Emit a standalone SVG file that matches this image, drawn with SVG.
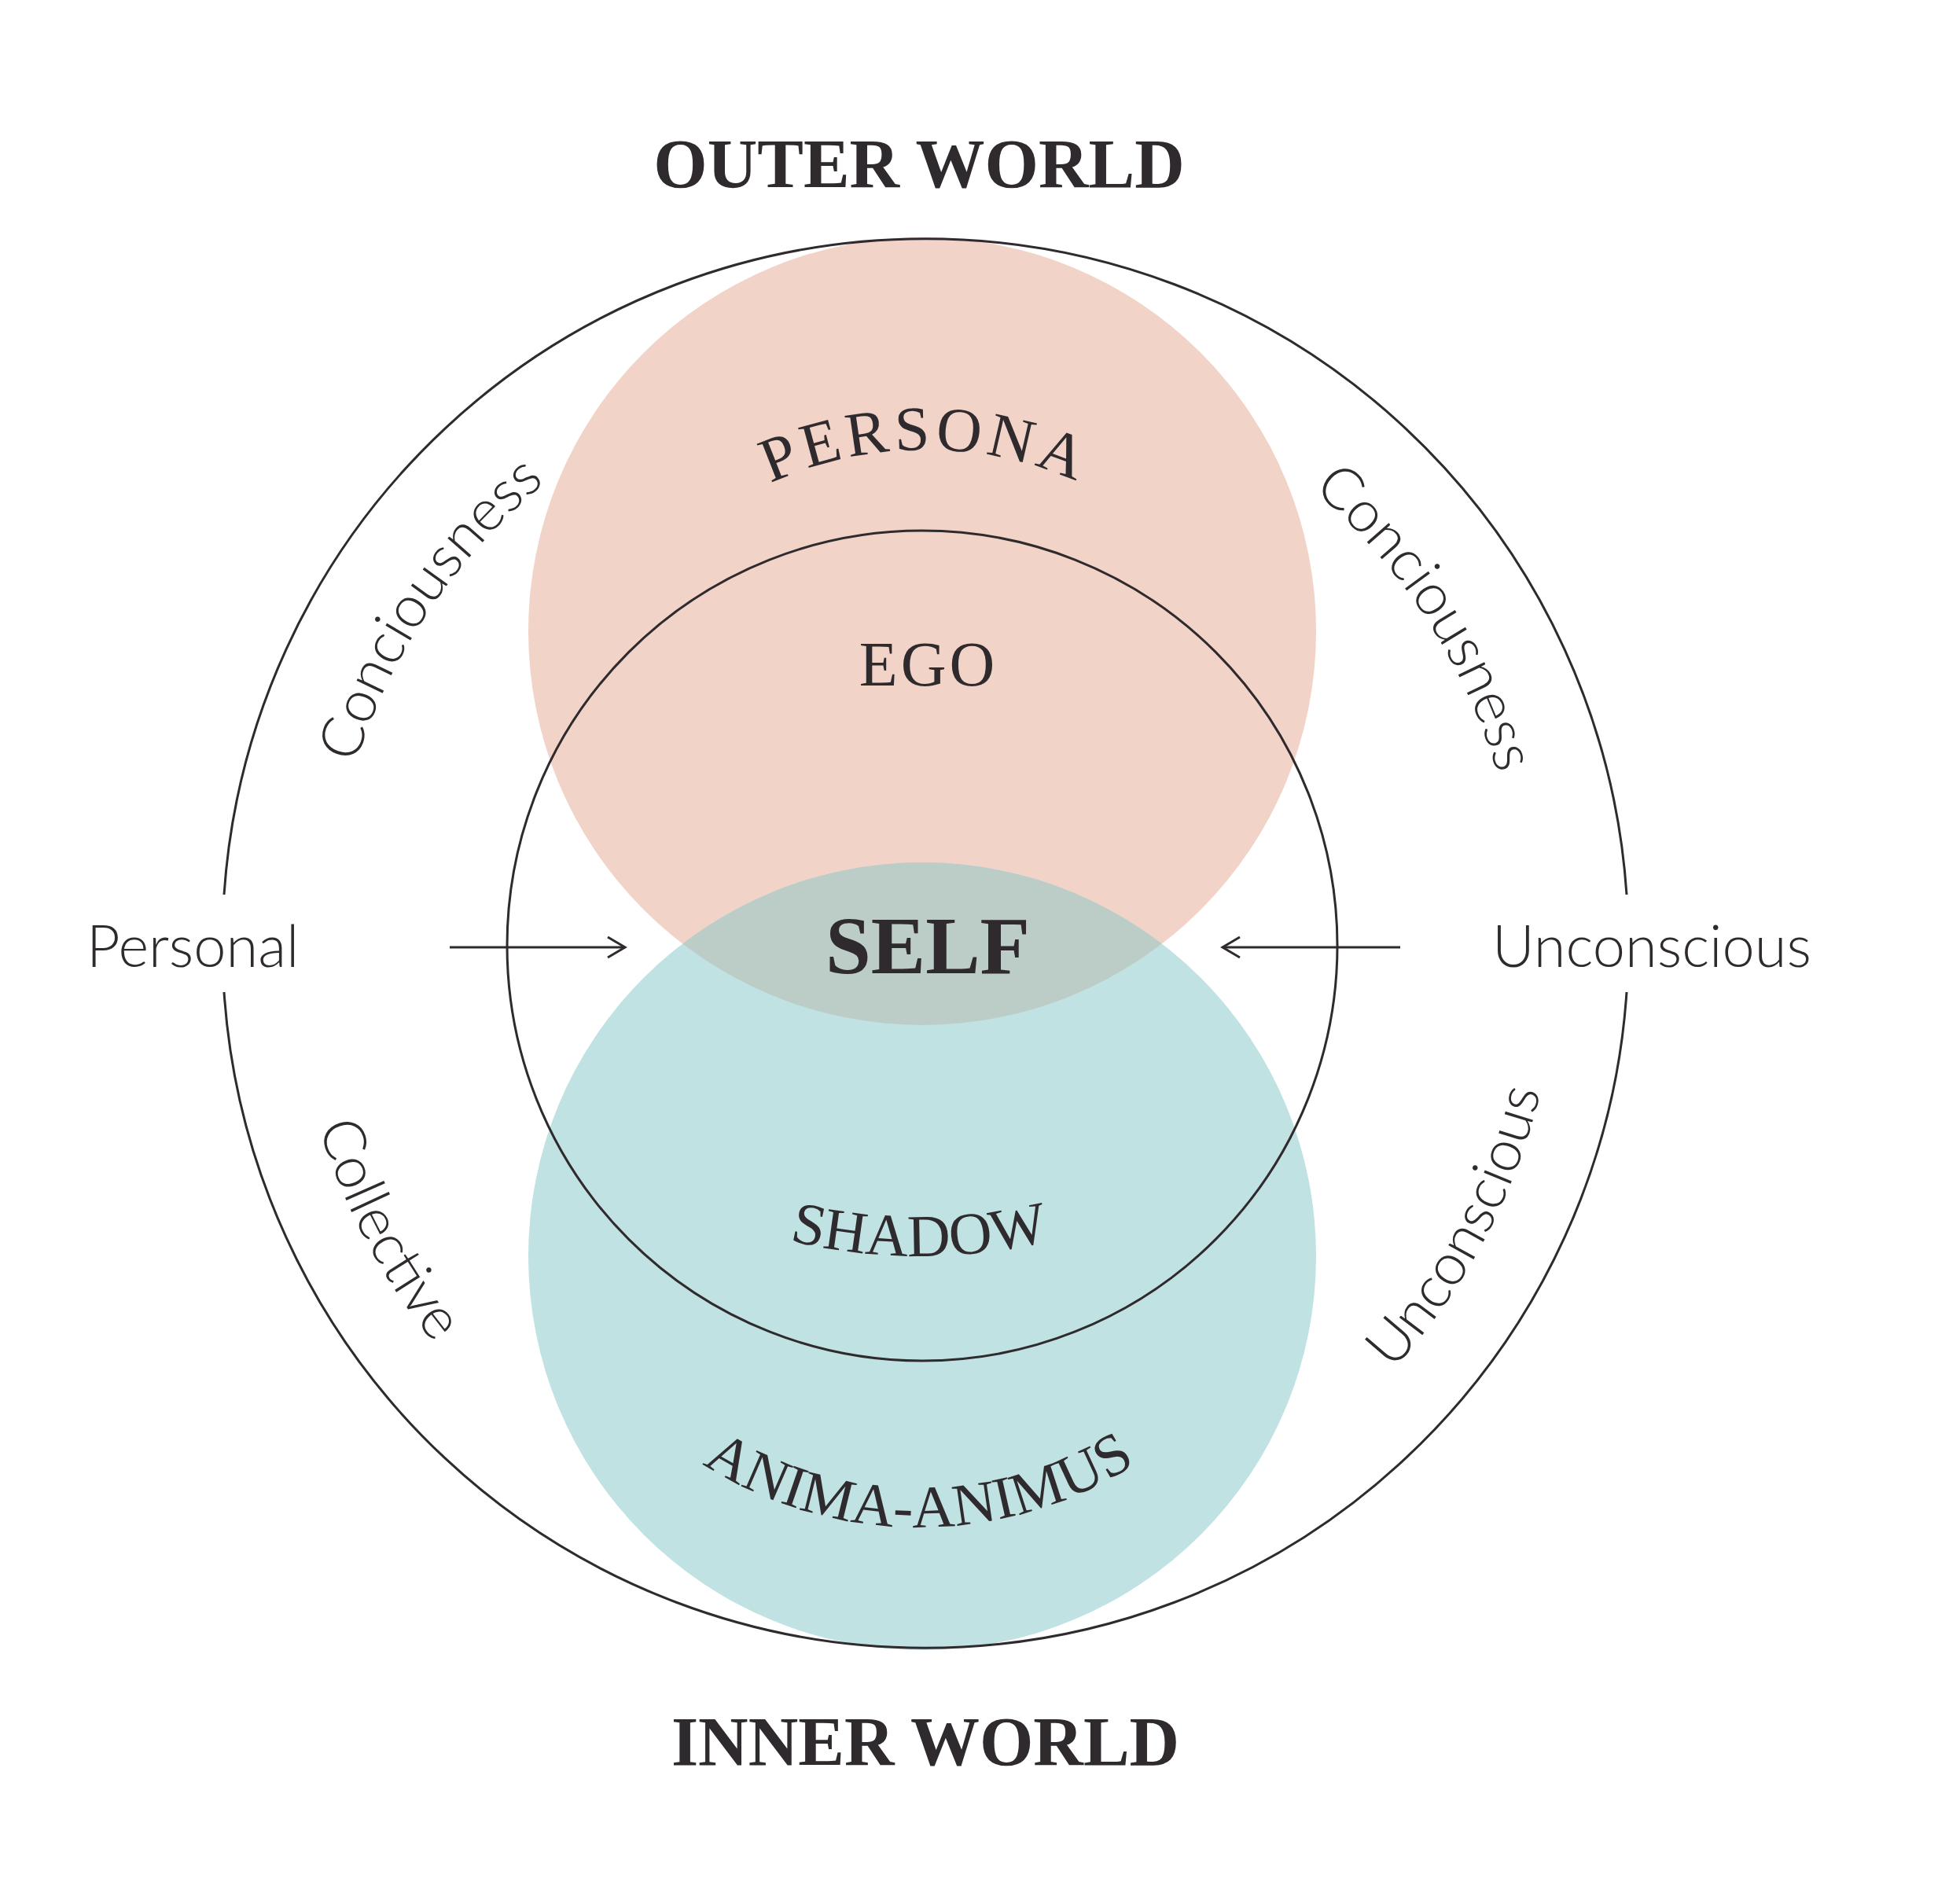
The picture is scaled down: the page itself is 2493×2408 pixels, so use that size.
<svg xmlns="http://www.w3.org/2000/svg" width="2493" height="2408" viewBox="0 0 2493 2408">
<style>
.ser{font-family:"Liberation Serif",serif;fill:#2f2a2d}
.san{font-family:"Lato","Noto Sans",sans-serif;font-weight:300;fill:#2f2a2d;font-size:74px}
.ln{fill:none;stroke:#2f2a2d;stroke-width:3}
</style>
<defs>
<clipPath id="pc"><circle cx="1173" cy="803" r="501"/></clipPath>
<marker id="ah" markerWidth="30" markerHeight="30" refX="26" refY="15" orient="auto" markerUnits="userSpaceOnUse"><path d="M4,2 L26,15 L4,28" fill="none" stroke="#2f2a2d" stroke-width="3"/></marker>
<path id="p1" d="M562,1647 A760,760 0 0 1 1361,463"/>
<path id="p2" d="M1006,460 A760,760 0 0 1 1784,1657"/>
<path id="p3" d="M578,661 A805,805 0 0 0 1289,1997"/>
<path id="p4" d="M1065,1997 A805,805 0 0 0 1775,661"/>
<path id="pp" d="M870,684 A477,477 0 0 1 1484,684"/>
<path id="ps" d="M819,1504 A700,700 0 0 0 1519,1504"/>
<path id="pa" d="M777,1760 A512,512 0 0 0 1561,1760"/>
</defs>
<rect width="2493" height="2408" fill="#fff"/>
<g id="circles">
<circle cx="1173" cy="803" r="501" fill="#f2d3c7"/>
<circle cx="1173" cy="1598" r="501" fill="#c1e2e3"/>
<circle cx="1173" cy="1598" r="501" fill="#bccdc8" clip-path="url(#pc)"/>
</g>
<g id="outer"><path class="ln" d="M285,1138 A894,894 0 0 1 2069,1138 M2069,1262 A894,894 0 0 1 285,1262"/></g>
<g id="inner"><circle class="ln" cx="1173" cy="1203" r="528"/></g>
<g id="connectors">
<line class="ln" x1="572" y1="1205" x2="795" y2="1205" marker-end="url(#ah)"/>
<line class="ln" x1="1781" y1="1205" x2="1555" y2="1205" marker-end="url(#ah)"/>
</g>
<g id="titles">
<text class="ser" x="1169" y="238" font-size="88" font-weight="bold" text-anchor="middle">OUTER WORLD</text>
<text class="ser" x="1177" y="2245" font-size="88" font-weight="bold" text-anchor="middle">INNER WORLD</text>
</g>
<g id="persona"><text class="ser" font-size="80" letter-spacing="6"><textPath href="#pp" startOffset="50%" text-anchor="middle">PERSONA</textPath></text></g>
<g id="ego"><text class="ser" x="1181" y="872" font-size="80" text-anchor="middle" letter-spacing="4">EGO</text></g>
<g id="self"><text class="ser" x="1180" y="1238" font-size="104" font-weight="bold" text-anchor="middle">SELF</text></g>
<g id="shadow"><text class="ser" font-size="76"><textPath href="#ps" startOffset="50%" text-anchor="middle">SHADOW</textPath></text></g>
<g id="anima"><text class="ser" font-size="76"><textPath href="#pa" startOffset="50%" text-anchor="middle">ANIMA-ANIMUS</textPath></text></g>
<g id="side">
<text class="san" x="110" y="1230">Personal</text>
<text class="san" x="1898" y="1230">Unconscious</text>
<text class="san"><textPath href="#p1" startOffset="50%" text-anchor="middle">Conciousness</textPath></text>
<text class="san"><textPath href="#p2" startOffset="50%" text-anchor="middle">Conciousness</textPath></text>
<text class="san"><textPath href="#p3" startOffset="50%" text-anchor="middle">Collective</textPath></text>
<text class="san"><textPath href="#p4" startOffset="50%" text-anchor="middle">Unconscious</textPath></text>
</g>
</svg>
